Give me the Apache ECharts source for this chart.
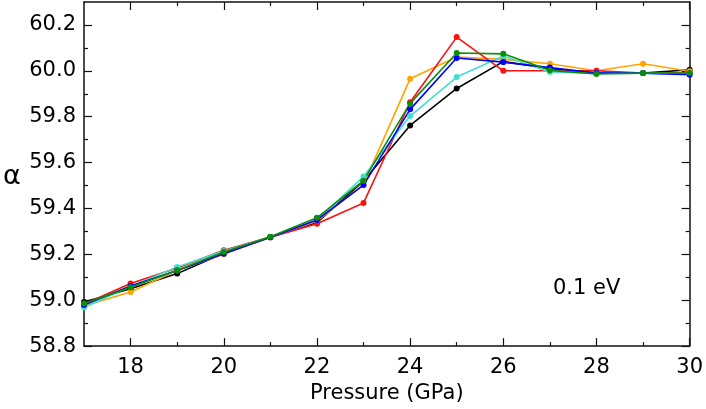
<!DOCTYPE html>
<html>
<head>
<meta charset="utf-8">
<script src="https://cdn.jsdelivr.net/npm/echarts@6/dist/echarts.min.js"></script>
<style>
  html, body { margin: 0; padding: 0; background: #fff; }
  #graph01 { width: 706px; height: 409px; }
</style>
</head>
<body>
<div id="graph01"></div>
<script>
// pressure (GPa) and alpha for each run
var pressure = [17, 18, 19, 20, 21, 22, 23, 24, 25, 26, 27, 28, 29, 30];
var alphaBlack  = [58.992, 59.050, 59.116, 59.205, 59.275, 59.338, 59.520, 59.762, 59.923, 60.040, 60.010, 59.990, 59.990, 60.005];
var alphaOrange = [58.975, 59.036, 59.130, 59.200, 59.275, 59.345, 59.505, 59.965, 60.060, 60.050, 60.031, 60.000, 60.031, 59.998];
var alphaRed    = [58.982, 59.073, 59.140, 59.218, 59.275, 59.333, 59.424, 59.863, 60.147, 60.000, 60.000, 60.000, 59.990, 59.990];
var alphaCyan   = [58.968, 59.060, 59.145, 59.215, 59.275, 59.350, 59.539, 59.803, 59.973, 60.065, 59.995, 59.990, 59.990, 59.985];
var alphaBlue   = [58.979, 59.062, 59.130, 59.203, 59.275, 59.350, 59.502, 59.832, 60.056, 60.038, 60.014, 59.990, 59.990, 59.983];
var alphaGreen  = [58.986, 59.056, 59.131, 59.210, 59.277, 59.359, 59.521, 59.858, 60.078, 60.074, 60.002, 59.986, 59.990, 59.990];

var xMajor = [18, 20, 22, 24, 26, 28, 30];
var xMinor = [19, 21, 23, 25, 27, 29];
var yMajor = [58.8, 59.0, 59.2, 59.4, 59.6, 59.8, 60.0, 60.2];
var yMinor = [58.9, 59.1, 59.3, 59.5, 59.7, 59.9, 60.1];

var font = '"DejaVu Sans", Verdana, sans-serif';
var axisColor = '#111';

function pairs(ys) {
    return pressure.map(function (x, i) { return [x, ys[i]]; });
}

function xAx(pos, ticks, len, withLine, withLabels) {
    return {
        type: 'value', position: pos, min: 17, max: 30,
        axisLine: { show: withLine, lineStyle: { color: axisColor, width: 1.5 } },
        axisTick: { show: true, inside: true, length: len, customValues: ticks,
                    lineStyle: { color: axisColor, width: 1.2 } },
        axisLabel: { show: withLabels, customValues: ticks, color: '#000',
                     fontSize: 21, fontFamily: font, margin: 11 },
        splitLine: { show: false }
    };
}

function yAx(pos, ticks, len, withLine, withLabels) {
    return {
        type: 'value', position: pos, min: 58.8, max: 60.3,
        axisLine: { show: withLine, lineStyle: { color: axisColor, width: 1.5 } },
        axisTick: { show: true, inside: true, length: len, customValues: ticks,
                    lineStyle: { color: axisColor, width: 1.2 } },
        axisLabel: { show: withLabels, customValues: ticks, color: '#000',
                     fontSize: 21, fontFamily: font, margin: 8,
                     formatter: function (v) { return v.toFixed(1); } },
        splitLine: { show: false }
    };
}

var xBottom = xAx('bottom', xMajor, 8, true, true);
xBottom.name = 'Pressure (GPa)';
xBottom.nameLocation = 'middle';
xBottom.nameGap = 25;
xBottom.nameTextStyle = { color: '#000', fontSize: 21, fontFamily: font };

function line(name, color, ys) {
    return {
        name: name, type: 'line', xAxisIndex: 0, yAxisIndex: 0,
        data: pairs(ys),
        symbol: 'circle', symbolSize: 6,
        lineStyle: { color: color, width: 1.6 },
        itemStyle: { color: color },
        silent: true
    };
}

var myChart = echarts.init(document.getElementById('graph01'), null, { renderer: 'canvas' });
var option = {
    animation: false,
    backgroundColor: '#fff',
    grid: { left: 84, right: 15, top: 2, bottom: 61, containLabel: false },
    xAxis: [
        xBottom,
        xAx('bottom', xMinor, 4, false, false),
        xAx('top', xMajor, 8, true, false),
        xAx('top', xMinor, 4, false, false)
    ],
    yAxis: [
        yAx('left', yMajor, 8, true, true),
        yAx('left', yMinor, 4, false, false),
        yAx('right', yMajor, 8, true, false),
        yAx('right', yMinor, 4, false, false)
    ],
    graphic: [
        { type: 'text', x: 3, y: 177,
          style: { text: 'α', fontSize: 27, fontFamily: font, fill: '#000', verticalAlign: 'middle' } },
        { type: 'text', x: 553, y: 289,
          style: { text: '0.1 eV', fontSize: 21, fontFamily: font, fill: '#000', verticalAlign: 'middle' } }
    ],
    series: [
        line('black', '#000000', alphaBlack),
        line('orange', '#ffa500', alphaOrange),
        line('red', '#ff1010', alphaRed),
        line('cyan', '#40e0d0', alphaCyan),
        line('blue', '#0000ff', alphaBlue),
        line('green', '#0a8f0a', alphaGreen)
    ]
};
myChart.setOption(option);
</script>
</body>
</html>
